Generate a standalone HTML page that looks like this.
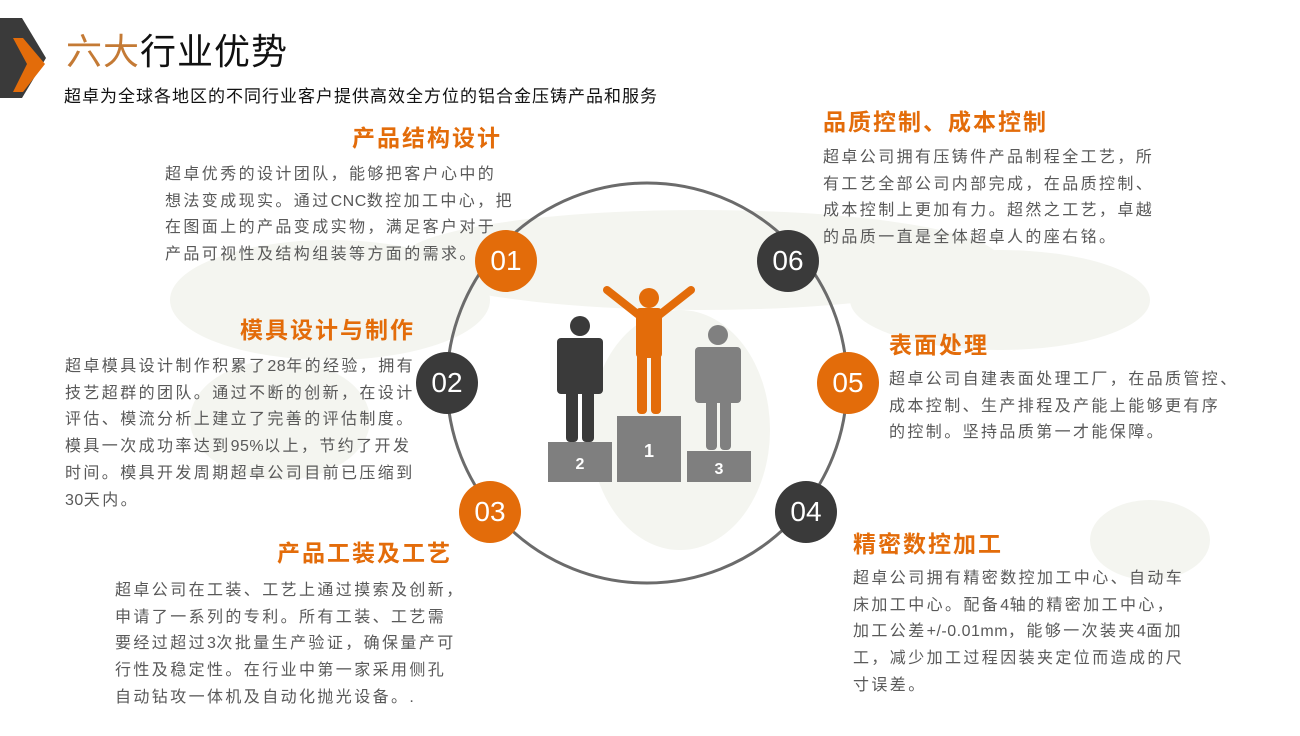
<!DOCTYPE html>
<html><head><meta charset="utf-8">
<style>
body{margin:0;width:1300px;height:736px;background:#fff;position:relative;overflow:hidden;font-family:"Liberation Sans","Noto Sans CJK SC",sans-serif;}
.a{position:absolute;white-space:nowrap;}
.h{position:absolute;white-space:nowrap;color:#e36c0a;font-weight:bold;font-size:23px;letter-spacing:2px;line-height:30px;}
.b{position:absolute;white-space:nowrap;color:#595959;font-size:16px;letter-spacing:2.4px;line-height:26.7px;}
.b span{letter-spacing:0.5px}
.n{position:absolute;width:62px;height:62px;border-radius:50%;color:#fff;font-size:28px;line-height:62px;text-align:center;}
.o{background:#e36c0a}.d{background:#3a3a3a}
</style></head><body>
<svg class="a" style="left:0;top:0" width="1300" height="736">
<g fill="#f4f5f0">
<ellipse cx="330" cy="300" rx="160" ry="60"/>
<ellipse cx="280" cy="420" rx="90" ry="60"/>
<ellipse cx="700" cy="260" rx="300" ry="50"/>
<ellipse cx="1000" cy="300" rx="150" ry="50"/>
<ellipse cx="680" cy="430" rx="90" ry="120"/>
<ellipse cx="1150" cy="540" rx="60" ry="40"/>
</g>
<polygon points="0,18 22,18 46,58 22,98 0,98" fill="#3a3a3a"/>
<polygon points="13,38 23,38 45,64 23,92 13,92 27,64" fill="#e36c0a"/>
<circle cx="647" cy="383" r="200" fill="none" stroke="#6b6b6b" stroke-width="3"/>
<rect x="548" y="442" width="64" height="40" fill="#7f7f7f"/>
<rect x="617" y="416" width="64" height="66" fill="#7f7f7f"/>
<rect x="687" y="451" width="64" height="31" fill="#7f7f7f"/>
<text x="580" y="469" fill="#fff" font-size="16" font-weight="bold" text-anchor="middle" font-family="Liberation Sans">2</text>
<text x="649" y="457" fill="#fff" font-size="18" font-weight="bold" text-anchor="middle" font-family="Liberation Sans">1</text>
<text x="719" y="474" fill="#fff" font-size="16" font-weight="bold" text-anchor="middle" font-family="Liberation Sans">3</text>
<g fill="#3a3a3a">
<circle cx="580" cy="326" r="10"/>
<rect x="557" y="338" width="46" height="56" rx="4"/>
<rect x="566" y="390" width="12" height="52" rx="4"/>
<rect x="582" y="390" width="12" height="52" rx="4"/>
</g>
<g fill="#e36c0a">
<circle cx="649" cy="298" r="10"/>
<rect x="636" y="308" width="26" height="50" rx="4"/>
<rect x="637" y="350" width="10" height="64" rx="4"/>
<rect x="651" y="350" width="10" height="64" rx="4"/>
<line x1="640" y1="316" x2="607" y2="290" stroke="#e36c0a" stroke-width="8" stroke-linecap="round"/>
<line x1="658" y1="316" x2="691" y2="290" stroke="#e36c0a" stroke-width="8" stroke-linecap="round"/>
</g>
<g fill="#808080">
<circle cx="718" cy="335" r="10"/>
<rect x="695" y="347" width="46" height="56" rx="4"/>
<rect x="706" y="398" width="11" height="52" rx="4"/>
<rect x="720" y="398" width="11" height="52" rx="4"/>
</g>
</svg>
<div class="n o" style="left:475px;top:230px">01</div>
<div class="n d" style="left:416px;top:352px">02</div>
<div class="n o" style="left:459px;top:481px">03</div>
<div class="n d" style="left:775px;top:481px">04</div>
<div class="n o" style="left:817px;top:352px">05</div>
<div class="n d" style="left:757px;top:230px">06</div>

<div class="a" style="left:66px;top:30px;font-size:36px;line-height:44px;color:#111;letter-spacing:1px"><span style="color:#c47a35">六大</span>行业优势</div>
<div class="a" style="left:64px;top:86px;font-size:17px;line-height:22px;color:#111;letter-spacing:1px">超卓为全球各地区的不同行业客户提供高效全方位的铝合金压铸产品和服务</div>

<div class="h" style="left:352px;top:123px">产品结构设计</div>
<div class="b" style="left:165px;top:162px">超卓优秀的设计团队，能够把客户心中的<br>想法变成现实。通过<span>CNC</span>数控加工中心，把<br>在图面上的产品变成实物，满足客户对于<br>产品可视性及结构组装等方面的需求。</div>

<div class="h" style="left:240px;top:315px">模具设计与制作</div>
<div class="b" style="left:65px;top:354px">超卓模具设计制作积累了<span>28</span>年的经验，拥有<br>技艺超群的团队。通过不断的创新，在设计<br>评估、模流分析上建立了完善的评估制度。<br>模具一次成功率达到<span>95%</span>以上，节约了开发<br>时间。模具开发周期超卓公司目前已压缩到<br><span>30</span>天内。</div>

<div class="h" style="left:277px;top:538px">产品工装及工艺</div>
<div class="b" style="left:115px;top:578px">超卓公司在工装、工艺上通过摸索及创新，<br>申请了一系列的专利。所有工装、工艺需<br>要经过超过<span>3</span>次批量生产验证，确保量产可<br>行性及稳定性。在行业中第一家采用侧孔<br>自动钻攻一体机及自动化抛光设备。.</div>

<div class="h" style="left:823px;top:107px">品质控制、成本控制</div>
<div class="b" style="left:823px;top:145px">超卓公司拥有压铸件产品制程全工艺，所<br>有工艺全部公司内部完成，在品质控制、<br>成本控制上更加有力。超然之工艺，卓越<br>的品质一直是全体超卓人的座右铭。</div>

<div class="h" style="left:889px;top:330px">表面处理</div>
<div class="b" style="left:889px;top:367px">超卓公司自建表面处理工厂，在品质管控、<br>成本控制、生产排程及产能上能够更有序<br>的控制。坚持品质第一才能保障。</div>

<div class="h" style="left:853px;top:529px">精密数控加工</div>
<div class="b" style="left:853px;top:566px">超卓公司拥有精密数控加工中心、自动车<br>床加工中心。配备<span>4</span>轴的精密加工中心，<br>加工公差<span>+/-0.01mm</span>，能够一次装夹<span>4</span>面加<br>工，减少加工过程因装夹定位而造成的尺<br>寸误差。</div>
</body></html>
